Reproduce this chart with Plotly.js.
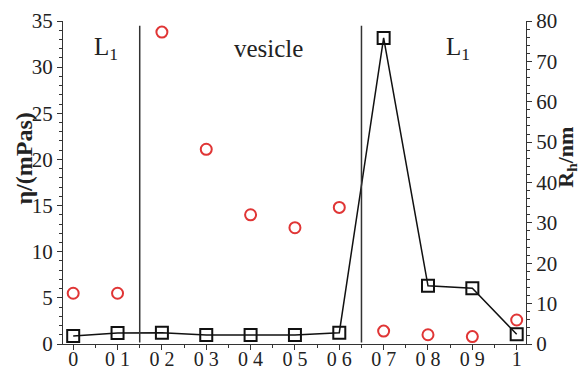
<!DOCTYPE html>
<html>
<head>
<meta charset="utf-8">
<script src="https://cdn.plot.ly/plotly-3.0.1.min.js"></script>
<style>html,body{margin:0;padding:0;background:#fff;}</style>
</head>
<body>
<div id="chart" style="width:579px;height:369px;"></div>
<script>
const xValues = [0, 0.1, 0.2, 0.3, 0.4, 0.5, 0.6, 0.7, 0.8, 0.9, 1];
const xTickLabels = ["0", "0 1", "0 2", "0 3", "0 4", "0 5", "0 6", "0 7", "0 8", "0 9", "1"];
const viscosity = [5.5, 5.5, 33.8, 21.1, 14.0, 12.6, 14.8, 1.4, 1.0, 0.8, 2.6];
const radius = [2.0, 2.7, 2.8, 2.2, 2.2, 2.2, 2.8, 75.8, 14.4, 13.8, 2.4];
const phaseBoundaries = [0.15, 0.65];
const phaseLabels = [
  {x: 0.075, text: "L<sub>1</sub>"},
  {x: 0.44, text: "vesicle"},
  {x: 0.868, text: "L<sub>1</sub>"}
];
const leftTitle = "<b>η/(mPas)</b>";
const rightTitle = "<b>R<sub>h</sub>/nm</b>";

const FAMILY = "Liberation Serif";
const axisColor = "#333";

const traces = [
  {
    x: xValues, y: radius, yaxis: "y2", type: "scatter", mode: "lines+markers",
    line: {color: "#111", width: 1.5},
    marker: {symbol: "square-open", size: 12, color: "#111", line: {width: 2, color: "#111"}},
    cliponaxis: false, showlegend: false
  },
  {
    x: xValues, y: viscosity, yaxis: "y", type: "scatter", mode: "markers",
    marker: {symbol: "circle-open", size: 11, color: "#e03535", line: {width: 2, color: "#e03535"}},
    cliponaxis: false, showlegend: false
  }
];

const shapes = phaseBoundaries.map(b => ({
  type: "line", xref: "x", yref: "paper", x0: b, x1: b, y0: 0.005, y1: 0.985,
  line: {color: axisColor, width: 1.5}
}));

const annotations = phaseLabels.map(p => ({
  x: p.x, y: 0.915, xref: "x", yref: "paper", text: p.text, showarrow: false,
  font: {family: FAMILY, size: 25, color: "#222"}, xanchor: "center", yanchor: "middle"
}));
annotations.push({
  x: -0.085, y: 0.573, xref: "paper", yref: "paper", text: leftTitle, showarrow: false,
  textangle: -90, font: {family: FAMILY, size: 24, color: "#222"}, xanchor: "center", yanchor: "middle"
});
annotations.push({
  x: 1.088, y: 0.579, xref: "paper", yref: "paper", text: rightTitle, showarrow: false,
  textangle: -90, font: {family: FAMILY, size: 22, color: "#222"}, xanchor: "center", yanchor: "middle"
});

const layout = {
  width: 579, height: 369,
  margin: {l: 63, r: 53, t: 21, b: 25, pad: 0},
  paper_bgcolor: "#fff", plot_bgcolor: "#fff",
  font: {family: FAMILY, size: 19, color: "#222"},
  xaxis: {
    range: [-0.023, 1.021], tickmode: "array", tickvals: xValues, ticktext: xTickLabels,
    showgrid: false, zeroline: false, showline: true, linecolor: axisColor, linewidth: 1,
    ticks: "outside", ticklen: 5, tickcolor: axisColor, tickfont: {family: FAMILY, size: 20, color: "#222"},
    ticklabelstandoff: -8,
    minor: {dtick: 0.05, tick0: 0, ticks: "outside", ticklen: 3, tickcolor: axisColor, showgrid: false}
  },
  yaxis: {
    range: [0, 35], dtick: 5, showgrid: false, zeroline: false, showline: true,
    linecolor: axisColor, linewidth: 1, ticks: "outside", ticklen: 5, tickcolor: axisColor,
    tickfont: {family: FAMILY, size: 21, color: "#222"},
    minor: {dtick: 1, ticks: "outside", ticklen: 3, tickcolor: axisColor, showgrid: false}
  },
  yaxis2: {
    range: [0, 80], dtick: 10, overlaying: "y", side: "right", showgrid: false, zeroline: false,
    showline: true, linecolor: axisColor, linewidth: 1, ticks: "outside", ticklen: 5,
    tickcolor: axisColor, tickfont: {family: FAMILY, size: 21, color: "#222"},
    minor: {dtick: 2, ticks: "outside", ticklen: 3, tickcolor: axisColor, showgrid: false}
  },
  shapes: shapes,
  annotations: annotations
};

Plotly.newPlot("chart", traces, layout, {displayModeBar: false, staticPlot: true});
</script>
</body>
</html>
